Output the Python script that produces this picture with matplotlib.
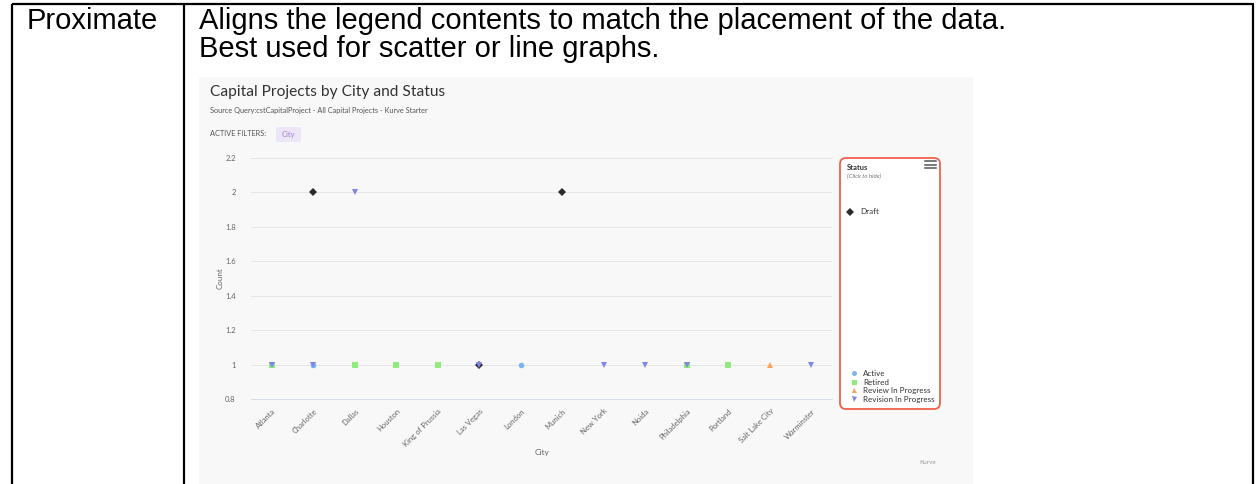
import matplotlib
matplotlib.use("Agg")
import matplotlib.pyplot as plt
from matplotlib.patches import Rectangle, FancyBboxPatch
from matplotlib.lines import Line2D

W, H = 1259, 484

# table text
row_label = "Proximate"
row_desc = ["Aligns the legend contents to match the placement of the data.",
            "Best used for scatter or line graphs."]

# chart data
cities = ["Atlanta", "Charlotte", "Dallas", "Houston", "King of Prussia",
          "Las Vegas", "London", "Munich", "New York", "Noida",
          "Philadelphia", "Portland", "Salt Lake City", "Warminster"]
active = [None, 1, None, None, None, None, 1, None, None, None, None, None, None, None]
draft = [None, 2, None, None, None, 1, None, 2, None, None, None, None, None, None]
retired = [1, None, 1, 1, 1, None, None, None, None, None, 1, 1, None, None]
review = [None, None, None, None, None, None, None, None, None, None, None, None, 1, None]
revision = [1, 1, 2, None, None, 1, None, None, 1, 1, 1, None, None, 1]
y_ticks = [0.8, 1, 1.2, 1.4, 1.6, 1.8, 2, 2.2]

series = [
    ("Active", active, "#7cb5ec", "o"),
    ("Draft", draft, "#2b2b2b", "D"),
    ("Retired", retired, "#90ed7d", "s"),
    ("Review In Progress", review, "#f7a35c", "^"),
    ("Revision In Progress", revision, "#8085e9", "v"),
]


def fx(x):
    return x / W


def fy(y):
    return 1 - y / H


fig = plt.figure(figsize=(W / 100, H / 100), dpi=100)
fig.patch.set_facecolor("white")

# background layer in pixel coords
tab = fig.add_axes([0, 0, 1, 1])
tab.set_xlim(0, W)
tab.set_ylim(H, 0)
tab.axis("off")

tab.add_patch(Rectangle((199, 77), 774, 410, facecolor="#f8f8f8", edgecolor="none"))
for xs, ys in [([12, 1254], [4, 4]), ([12, 12], [4, 490]),
               ([184, 184], [4, 490]), ([1253, 1253], [4, 490])]:
    tab.add_line(Line2D(xs, ys, color="black", lw=1.6, solid_capstyle="butt"))

tab.text(27, 29, row_label, fontsize=21, family="Liberation Sans",
         va="baseline", ha="left")
for i, line in enumerate(row_desc):
    tab.text(199, 29 + 28 * i, line, fontsize=21, family="Liberation Sans",
             va="baseline", ha="left")

# chart header
tab.text(210, 92, "Capital Projects by City and Status", fontsize=11.2,
         family="Lato", color="#333333", va="center")
tab.text(210, 111, "Source Query:cstCapitalProject - All Capital Projects - Kurve Starter",
         fontsize=5.3, family="Lato", color="#555555", va="center")
tab.text(210, 134, "ACTIVE FILTERS:", fontsize=5.3, family="Lato",
         color="#555555", va="center")
tab.add_patch(FancyBboxPatch((276, 127), 25, 15, boxstyle="round,pad=0,rounding_size=2",
                             facecolor="#ece6f7", edgecolor="none"))
tab.text(288.5, 134.5, "City", fontsize=5.5, family="Lato", color="#9a7fd6",
         va="center", ha="center")

# legend frame
tab.add_patch(FancyBboxPatch((840, 158), 100, 251, boxstyle="round,pad=0,rounding_size=6",
                             facecolor="white", edgecolor="#f0604a", lw=1.3))
tab.text(847, 167, "Status", fontsize=5.5, family="Lato", weight="bold",
         color="#333333", va="center")
tab.text(847, 176, "(Click to hide)", fontsize=4.4, family="Lato", style="italic",
         color="#777777", va="center")
for yy in [161, 164.5, 168]:
    tab.add_line(Line2D([925, 936], [yy, yy], color="#555555", lw=1.1))

tab.text(542, 452, "City", fontsize=6, family="Lato", color="#666666",
         ha="center", va="center")
tab.text(928, 462, "Kurve", fontsize=4.6, family="Lato", color="#999999",
         ha="center", va="center")

# plot area
ax = fig.add_axes([fx(251), fy(399), (832 - 251) / W, (399 - 158) / H])
ax.patch.set_alpha(0)
xs = list(range(len(cities)))
handles = {}
for name, vals, color, marker in series:
    px = [x for x, v in zip(xs, vals) if v is not None]
    py = [v for v in vals if v is not None]
    h, = ax.plot(px, py, linestyle="none", marker=marker, color=color,
                 markersize=4, markeredgewidth=0, label=name)
    handles[name] = h

ax.set_xlim(-0.5, len(cities) - 0.5)
ax.set_ylim(0.8, 2.2)
ax.set_yticks(y_ticks)
ax.set_yticklabels([f"{t:g}" for t in y_ticks])
ax.set_xticks(xs)
ax.set_xticklabels(cities, rotation=45, ha="right", rotation_mode="anchor")
ax.tick_params(axis="both", length=0, labelsize=5.5, colors="#666666",
               labelfontfamily="Lato")
ax.tick_params(axis="x", pad=6)
ax.tick_params(axis="y", pad=11)
ax.grid(axis="y", color="#e6e6e6", lw=0.7)
ax.set_axisbelow(True)
for s in ["top", "right", "left"]:
    ax.spines[s].set_visible(False)
ax.spines["bottom"].set_color("#d5dde9")
ax.spines["bottom"].set_linewidth(0.7)
ax.set_ylabel("Count", fontsize=5.8, family="Lato", color="#666666", labelpad=1)

# proximate legend: each entry sits beside its series
leg_props = {"family": "Lato", "size": 5.8}
leg_top = fig.legend([handles["Draft"]], ["Draft"], loc="center left",
                     bbox_to_anchor=(fx(843), fy(212)), frameon=False,
                     prop=leg_props, handlelength=0.7,
                     handletextpad=1.0, borderpad=0, markerscale=0.9)
leg_top.get_texts()[0].set_color("#333333")
rest = ["Active", "Retired", "Review In Progress", "Revision In Progress"]
leg_bot = fig.legend([handles[n] for n in rest], rest, loc="upper left",
                     bbox_to_anchor=(fx(847), fy(366)), frameon=False,
                     prop=leg_props, handlelength=0.7,
                     handletextpad=0.8, borderpad=0, labelspacing=0.2,
                     markerscale=0.9)
for t in leg_bot.get_texts():
    t.set_color("#333333")

fig.savefig("out.png", dpi=100)
